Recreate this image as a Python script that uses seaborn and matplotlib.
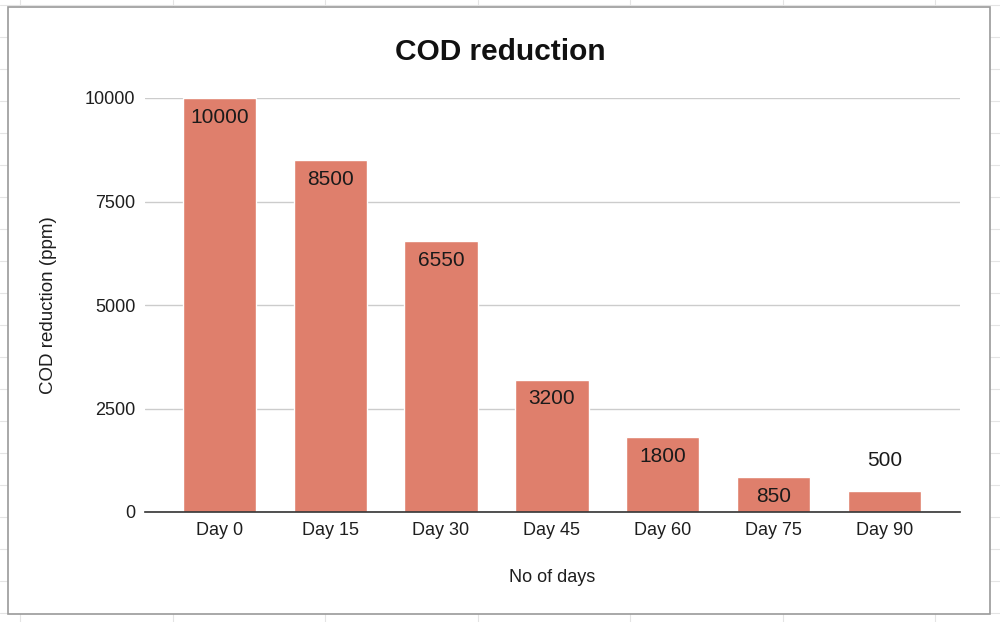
import matplotlib
matplotlib.use("Agg")
import matplotlib.pyplot as plt
import seaborn as sns
import pandas as pd
from matplotlib.patches import Rectangle
from matplotlib.lines import Line2D

categories = ["Day 0", "Day 15", "Day 30", "Day 45", "Day 60", "Day 75", "Day 90"]
values = [10000, 8500, 6550, 3200, 1800, 850, 500]
yticks = [0, 2500, 5000, 7500, 10000]

sns.set_theme(style="white")
plt.rcParams["font.family"] = ["Liberation Sans", "DejaVu Sans"]

df = pd.DataFrame({"day": categories, "cod": values})

fig = plt.figure(figsize=(10, 6.22), dpi=100)
fig.patch.set_facecolor("white")

# faint spreadsheet grid behind the chart frame
W, H = 1000, 622
for x in [20 + 152.5 * k for k in range(7)]:
    fig.add_artist(Line2D([x / W, x / W], [0, 1], color="#e4e4e4", lw=0.8, zorder=0))
for y in [5 + 32 * k for k in range(20)]:
    fig.add_artist(Line2D([0, 1], [1 - y / H, 1 - y / H], color="#e4e4e4", lw=0.8, zorder=0))
fig.add_artist(Rectangle((8 / W, 1 - 614 / H), (990 - 8) / W, (614 - 7) / H,
                         facecolor="white", edgecolor="#9a9a9a", lw=1.2, zorder=0.5))

ax = fig.add_axes([0.145, 1 - 512 / H, 0.815, (512 - 98) / H])
ax.set_zorder(1)
ax.patch.set_alpha(0)

sns.barplot(data=df, x="day", y="cod", color="#df7f6c", saturation=1, width=0.66, ax=ax, zorder=3)

ax.set_ylim(0, 10000)
ax.set_xlim(-0.67, 6.68)
ax.set_yticks(yticks)
ax.set_yticklabels([str(t) for t in yticks])
ax.yaxis.grid(True, color="#cccccc", lw=1)
ax.set_axisbelow(True)
for s in ["top", "right", "left"]:
    ax.spines[s].set_visible(False)
ax.spines["bottom"].set_color("#333333")
ax.spines["bottom"].set_linewidth(1.2)
ax.spines["bottom"].set_zorder(4)
ax.tick_params(axis="both", length=0, labelsize=13, colors="#1e1e1e")
ax.tick_params(axis="x", pad=7)
ax.tick_params(axis="y", pad=7)

for i, v in enumerate(values):
    if v >= 800:
        ax.annotate(str(v), (i, v), xytext=(0, -14), textcoords="offset points",
                    ha="center", va="center", fontsize=15, color="#1a1a1a", zorder=5)
    else:
        ax.annotate(str(v), (i, v), xytext=(0, 22), textcoords="offset points",
                    ha="center", va="center", fontsize=15, color="#1a1a1a", zorder=5)

ax.set_xlabel("No of days", fontsize=13, color="#1e1e1e", labelpad=22)
ax.set_ylabel("COD reduction (ppm)", fontsize=13.5, color="#1e1e1e", labelpad=20)
fig.text(0.5, 1 - 52 / H, "COD reduction", ha="center", va="center",
         fontsize=21.5, fontweight="bold", color="#111111")

fig.savefig("out.png", dpi=100)
